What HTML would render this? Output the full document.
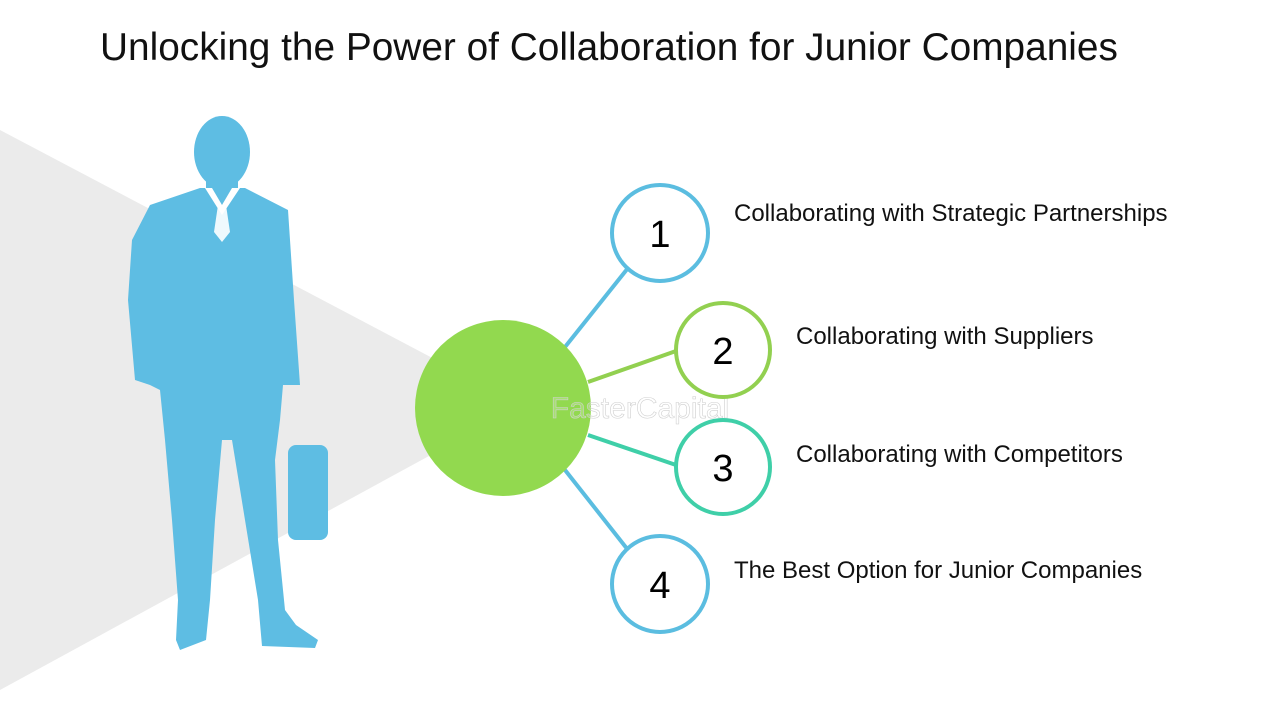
<!DOCTYPE html>
<html><head><meta charset="utf-8"><style>
html,body{margin:0;padding:0;background:#fff;width:1280px;height:720px;overflow:hidden}
svg{display:block}
</style></head><body>
<svg width="1280" height="720" viewBox="0 0 1280 720" xmlns="http://www.w3.org/2000/svg">
<rect width="1280" height="720" fill="#fff"/>
<text x="100" y="60" font-family="Liberation Sans, Arial, sans-serif" font-size="38.8" fill="#111">Unlocking the Power of Collaboration for Junior Companies</text>
<polygon points="0,130 440,362 440,450 0,690" fill="#ebebeb"/>
<g fill="#5ebde3">
<ellipse cx="222" cy="152" rx="28" ry="36"/>
<rect x="206" y="170" width="32" height="30"/>
<path d="M150,205 L200,188 L245,188 L288,210 L294,300 L300,385 L283,385 L280,420 L275,460 L278,540 L285,610 L296,625 L318,640 L315,648 L262,646 L258,600 L245,520 L232,440 L222,440 L215,520 L210,600 L206,640 L180,650 L176,640 L178,600 L172,520 L165,440 L160,390 L150,385 L135,380 L128,300 L132,240 Z"/>
<rect x="288" y="445" width="40" height="95" rx="8"/>
</g>
<path d="M205,188 L222,215 L240,188 L232,188 L222,205 L212,188 Z" fill="#fff"/>
<path d="M218,205 L226,205 L230,232 L222,242 L214,232 Z" fill="#fff" opacity="0.9"/>
<g stroke-width="4" fill="none">
<line x1="565" y1="347" x2="628" y2="268" stroke="#5bbde0"/>
<line x1="588" y1="382" x2="676" y2="351" stroke="#92d050"/>
<line x1="588" y1="435" x2="676" y2="465" stroke="#3fcfa8"/>
<line x1="565" y1="470" x2="628" y2="550" stroke="#5bbde0"/>
</g>
<circle cx="503" cy="408" r="88" fill="#92d94f"/>
<text x="640" y="418" text-anchor="middle" font-family="Liberation Sans, Arial, sans-serif" font-size="30" fill="#fff" fill-opacity="0.2" stroke="#d0d0d0" stroke-width="0.6">FasterCapital</text>
<g stroke-width="4" fill="#fff">
<circle cx="660" cy="233" r="48" stroke="#5bbde0"/>
<circle cx="723" cy="350" r="47" stroke="#92d050"/>
<circle cx="723" cy="467" r="47" stroke="#3fcfa8"/>
<circle cx="660" cy="584" r="48" stroke="#5bbde0"/>
</g>
<g font-family="Liberation Sans, Arial, sans-serif" font-size="38" fill="#000" text-anchor="middle">
<text x="660" y="247">1</text>
<text x="723" y="364">2</text>
<text x="723" y="481">3</text>
<text x="660" y="598">4</text>
</g>
<g font-family="Liberation Sans, Arial, sans-serif" font-size="24" fill="#111">
<text x="734" y="221">Collaborating with Strategic Partnerships</text>
<text x="796" y="344">Collaborating with Suppliers</text>
<text x="796" y="462">Collaborating with Competitors</text>
<text x="734" y="578">The Best Option for Junior Companies</text>
</g>
</svg>
</body></html>
